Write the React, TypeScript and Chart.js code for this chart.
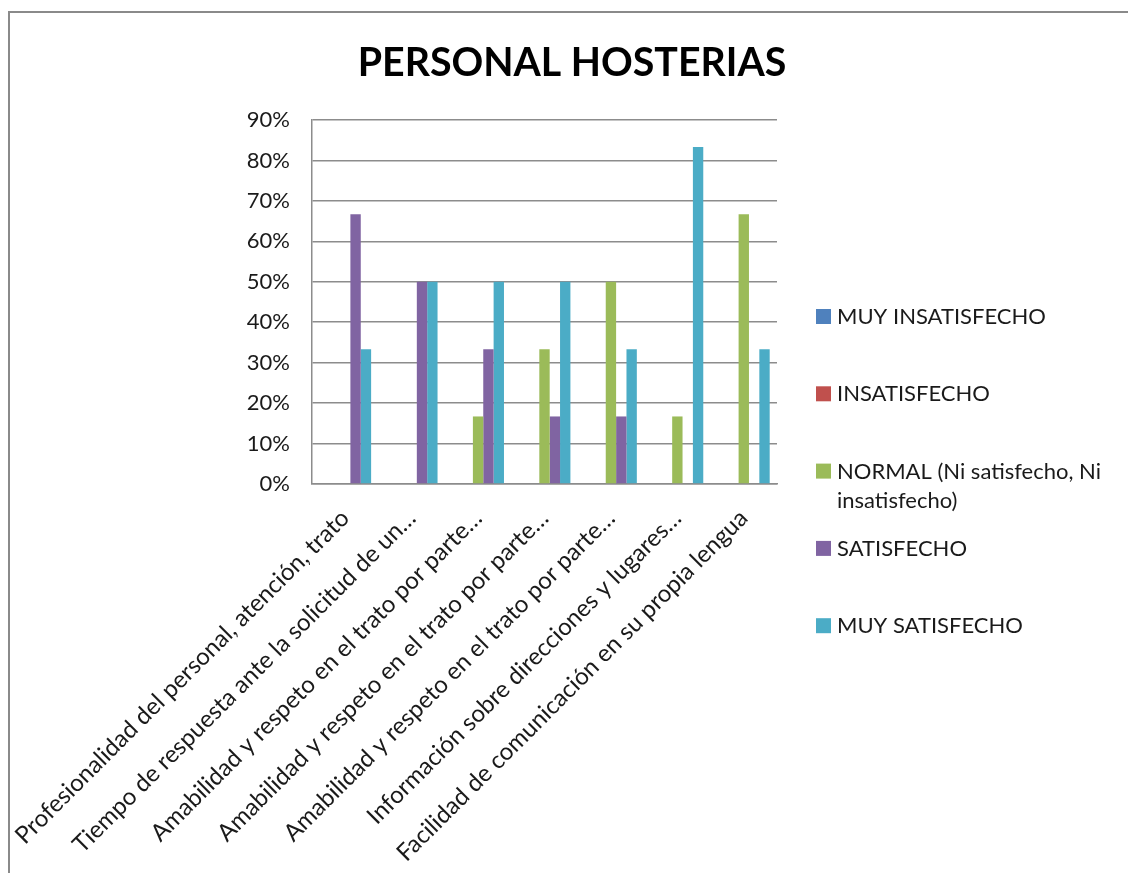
import React, { useEffect, useRef } from "react";
import { Chart, registerables } from "chart.js";

Chart.register(...registerables);

const TITLE = "PERSONAL HOSTERIAS";

const CATEGORIES = [
  "Profesionalidad del personal, atención, trato",
  "Tiempo de respuesta ante la solicitud de un…",
  "Amabilidad y respeto en el trato por parte…",
  "Amabilidad y respeto en el trato por parte…",
  "Amabilidad y respeto en el trato por parte…",
  "Información sobre direcciones y lugares…",
  "Facilidad de comunicación en su propia lengua",
];

const SERIES_NAMES = [
  "MUY INSATISFECHO",
  "INSATISFECHO",
  "NORMAL (Ni satisfecho, Ni insatisfecho)",
  "SATISFECHO",
  "MUY SATISFECHO",
];

const SERIES_COLORS = ["#4F81BD", "#C0504D", "#9BBB59", "#8064A2", "#4BACC6"];

const MUY_INSATISFECHO = [0, 0, 0, 0, 0, 0, 0];
const INSATISFECHO = [0, 0, 0, 0, 0, 0, 0];
const NORMAL = [0, 0, 0.167, 0.333, 0.5, 0.167, 0.667];
const SATISFECHO = [0.667, 0.5, 0.333, 0.167, 0.167, 0, 0];
const MUY_SATISFECHO = [0.333, 0.5, 0.5, 0.5, 0.333, 0.833, 0.333];

const Y_MIN = 0;
const Y_MAX = 0.9;
const Y_STEP = 0.1;

const FONT = "Lato";

const titlePlugin = {
  id: "centerTitle",
  afterDraw(chart: any) {
    const ctx = chart.ctx;
    ctx.save();
    ctx.font = `bold 39.3px ${FONT}`;
    ctx.fillStyle = "#000";
    ctx.textAlign = "center";
    ctx.textBaseline = "middle";
    ctx.fillText(TITLE, chart.width / 2, 63);
    ctx.restore();
  },
};

const legendPlugin = {
  id: "sideLegend",
  afterDraw(chart: any) {
    const ctx = chart.ctx;
    const area = chart.chartArea;
    const boxX = area.right + 39;
    const textX = boxX + 21;
    const startY = 309;
    const step = 77.3;
    const lineH = 29;
    const maxW = 275;
    ctx.save();
    ctx.font = `22px ${FONT}`;
    ctx.textBaseline = "middle";
    ctx.textAlign = "left";
    chart.data.datasets.forEach((ds: any, i: number) => {
      const top = startY + i * step;
      ctx.fillStyle = ds.backgroundColor;
      ctx.fillRect(boxX, top, 15, 15);
      const words = String(ds.label).split(" ");
      const lines: string[] = [];
      let cur = "";
      words.forEach((w) => {
        const test = cur ? cur + " " + w : w;
        if (cur && ctx.measureText(test).width > maxW) {
          lines.push(cur);
          cur = w;
        } else cur = test;
      });
      if (cur) lines.push(cur);
      ctx.fillStyle = "#1a1a1a";
      lines.forEach((ln, k) => {
        ctx.fillText(ln, textX, top + 8 + k * lineH);
      });
    });
    ctx.restore();
  },
};

export default function App() {
  const ref = useRef<HTMLCanvasElement | null>(null);

  useEffect(() => {
    if (!ref.current) return;
    const values = [MUY_INSATISFECHO, INSATISFECHO, NORMAL, SATISFECHO, MUY_SATISFECHO];
    const chart = new Chart(ref.current, {
      type: "bar",
      data: {
        labels: CATEGORIES,
        datasets: SERIES_NAMES.map((name, i) => ({
          label: name,
          data: values[i],
          backgroundColor: SERIES_COLORS[i],
          borderWidth: 0,
          categoryPercentage: 0.78,
          barPercentage: 1.0,
        })),
      },
      options: {
        responsive: false,
        animation: false,
        layout: { padding: { left: 0, right: 359, top: 120, bottom: 0 } },
        plugins: {
          legend: { display: false },
          tooltip: { enabled: false },
          title: { display: false },
        },
        scales: {
          x: {
            grid: { display: false },
            border: { display: true, color: "#8c8c8c", width: 1.5 },
            ticks: {
              autoSkip: false,
              minRotation: 45,
              maxRotation: 45,
              padding: 12,
              color: "#1a1a1a",
              font: { family: FONT, size: 24 },
            },
            afterFit(scale: any) {
              scale.height = 389;
              scale.paddingLeft = 0;
              scale.paddingRight = 0;
            },
          },
          y: {
            min: Y_MIN,
            max: Y_MAX,
            grid: { color: "#8c8c8c", lineWidth: 1.5, drawTicks: false },
            border: { display: true, color: "#8c8c8c", width: 1.5 },
            ticks: {
              stepSize: Y_STEP,
              padding: 22,
              color: "#1a1a1a",
              font: { family: FONT, size: 22 },
              callback: (v: any) => Math.round(Number(v) * 100) + "%",
            },
            afterFit(scale: any) {
              scale.width = 304;
              scale.paddingTop = 0;
              scale.paddingBottom = 0;
            },
          },
        },
      },
      plugins: [titlePlugin, legendPlugin],
    });
    return () => chart.destroy();
  }, []);

  return (
    <div
      style={{
        position: "fixed",
        left: 0,
        top: 0,
        width: 1128,
        height: 873,
        overflow: "hidden",
        background: "#fff",
      }}
    >
      <div
        style={{
          position: "absolute",
          left: 8,
          top: 11,
          width: 1300,
          height: 1000,
          borderTop: "2px solid #8a8a8a",
          borderLeft: "2px solid #8a8a8a",
        }}
      />
      <canvas
        ref={ref}
        width={1128}
        height={873}
        style={{ position: "absolute", left: 8, top: 0, display: "block" }}
      />
    </div>
  );
}
